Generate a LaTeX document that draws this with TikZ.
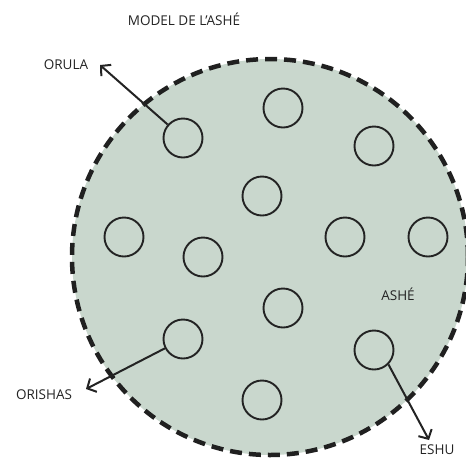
\documentclass[tikz,border=0pt]{standalone}
\usepackage{fontspec}
\setmainfont{Open Sans}
\usetikzlibrary{arrows.meta}
\definecolor{ashefill}{RGB}{201,215,205}
\definecolor{ink}{RGB}{35,35,35}
\begin{document}
\begin{tikzpicture}[x=1pt,y=-1pt,
  orisha/.style={circle,draw=ink,line width=1.9pt,minimum size=39pt,inner sep=0pt},
  lbl/.style={font=\fontsize{13.5}{15}\selectfont,text=ink,inner sep=0pt},
  pointer/.style={draw=ink,line width=2pt,-{Straight Barb[length=7pt,width=15pt,line width=2pt]}}]
\useasboundingbox (0,0) rectangle (466,459);
\node[circle,fill=ashefill,draw=ink!90!black,line width=4.5pt,dash pattern=on 12pt off 7pt,minimum size=396pt,inner sep=0pt] (ashe) at (270,257) {};
\node[orisha] (c1) at (183,138) {};
\node[orisha] (c2) at (283,108) {};
\node[orisha] (c3) at (374,146) {};
\node[orisha] (c4) at (262,196) {};
\node[orisha] (c5) at (124,237) {};
\node[orisha] (c6) at (203,257) {};
\node[orisha] (c7) at (345,237) {};
\node[orisha] (c8) at (428,237) {};
\node[orisha] (c9) at (283,308) {};
\node[orisha] (c10) at (183,339) {};
\node[orisha] (c11) at (374,350) {};
\node[orisha] (c12) at (262,400) {};
\node[lbl] (title) at (184,19) {MODEL DE L’ASHÉ};
\node[lbl] (orula) at (66,65) {ORULA};
\node[lbl] (orishas) at (44,395) {ORISHAS};
\node[lbl] (eshu) at (437,450) {ESHU};
\node[lbl] (ashelbl) at (398,294) {ASHÉ};
\coordinate (torula) at (100,65);
\coordinate (torishas) at (86,389);
\coordinate (teshu) at (429,440);
\draw[pointer] (c1) -- (torula);
\draw[pointer] (c10) -- (torishas);
\draw[pointer] (c11.south east) -- (teshu);
\end{tikzpicture}
\end{document}
